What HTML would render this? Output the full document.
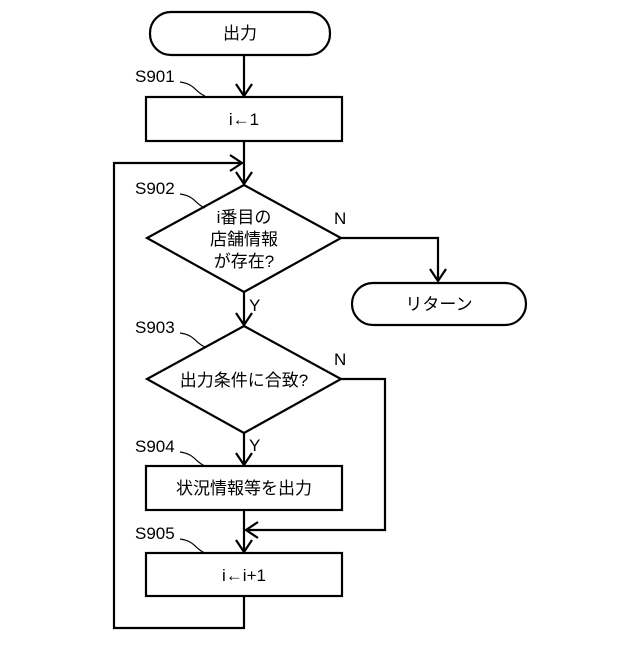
<!DOCTYPE html>
<html><head><meta charset="utf-8"><style>
html,body{margin:0;padding:0;background:#fff;}
svg text{font-family:"Liberation Sans","Noto Sans CJK JP",sans-serif;fill:#000;}
</style></head><body>
<svg width="640" height="640" viewBox="0 0 640 640" xmlns="http://www.w3.org/2000/svg">
<g fill="none" stroke="#000" stroke-width="2.2">
<rect x="150" y="12" width="180" height="43" rx="21"/>
<rect x="146" y="97" width="196" height="44"/>
<polygon points="244,185 341,238 244,292 147,238"/>
<rect x="352" y="283" width="174" height="42" rx="21"/>
<polygon points="244,326 341,379 244,433 147,379"/>
<rect x="146" y="466" width="196" height="44"/>
<rect x="146" y="553" width="196" height="43"/>
<line x1="244" y1="55" x2="244" y2="96"/>
<line x1="244" y1="141" x2="244" y2="184"/>
<polyline points="244,596 244,628 114,628 114,163 242,163"/>
<polyline points="341,238 438,238 438,281"/>
<line x1="244" y1="292" x2="244" y2="325"/>
<line x1="244" y1="433" x2="244" y2="465"/>
<line x1="244" y1="510" x2="244" y2="552"/>
<polyline points="341,379 385,379 385,530 246,530"/>
<polyline points="236,84 244,96 252,84"/>
<polyline points="236,172 244,184 252,172"/>
<polyline points="230,155 242,163 230,171"/>
<polyline points="430,269 438,281 446,269"/>
<polyline points="236,313 244,325 252,313"/>
<polyline points="236,453 244,465 252,453"/>
<polyline points="236,540 244,552 252,540"/>
<polyline points="258,522 246,530 258,538"/>
<g stroke-width="1.2">
<path d="M180,82 C195,84 195,92 205,96"/>
<path d="M180,194 C195,196 195,204 205,208"/>
<path d="M180,333 C195,335 195,343 205,347"/>
<path d="M180,452 C195,454 195,462 205,466"/>
<path d="M180,539 C195,541 195,549 205,553"/>
</g>
</g>
<g font-size="17">
<text x="240" y="39" text-anchor="middle">出力</text>
<text x="244" y="125" text-anchor="middle">i←1</text>
<text x="244" y="223" text-anchor="middle">i番目の</text>
<text x="244" y="245" text-anchor="middle">店舗情報</text>
<text x="244" y="267" text-anchor="middle">が存在?</text>
<text x="439" y="310" text-anchor="middle">リターン</text>
<text x="244" y="386" text-anchor="middle">出力条件に合致?</text>
<text x="244" y="494" text-anchor="middle">状況情報等を出力</text>
<text x="244" y="581" text-anchor="middle">i←i+1</text>
<text x="135" y="82">S901</text>
<text x="135" y="194">S902</text>
<text x="135" y="333">S903</text>
<text x="135" y="452">S904</text>
<text x="135" y="539">S905</text>
<text x="334" y="224">N</text>
<text x="334" y="365">N</text>
<text x="249" y="311">Y</text>
<text x="249" y="451">Y</text>
</g>
</svg>
</body></html>
